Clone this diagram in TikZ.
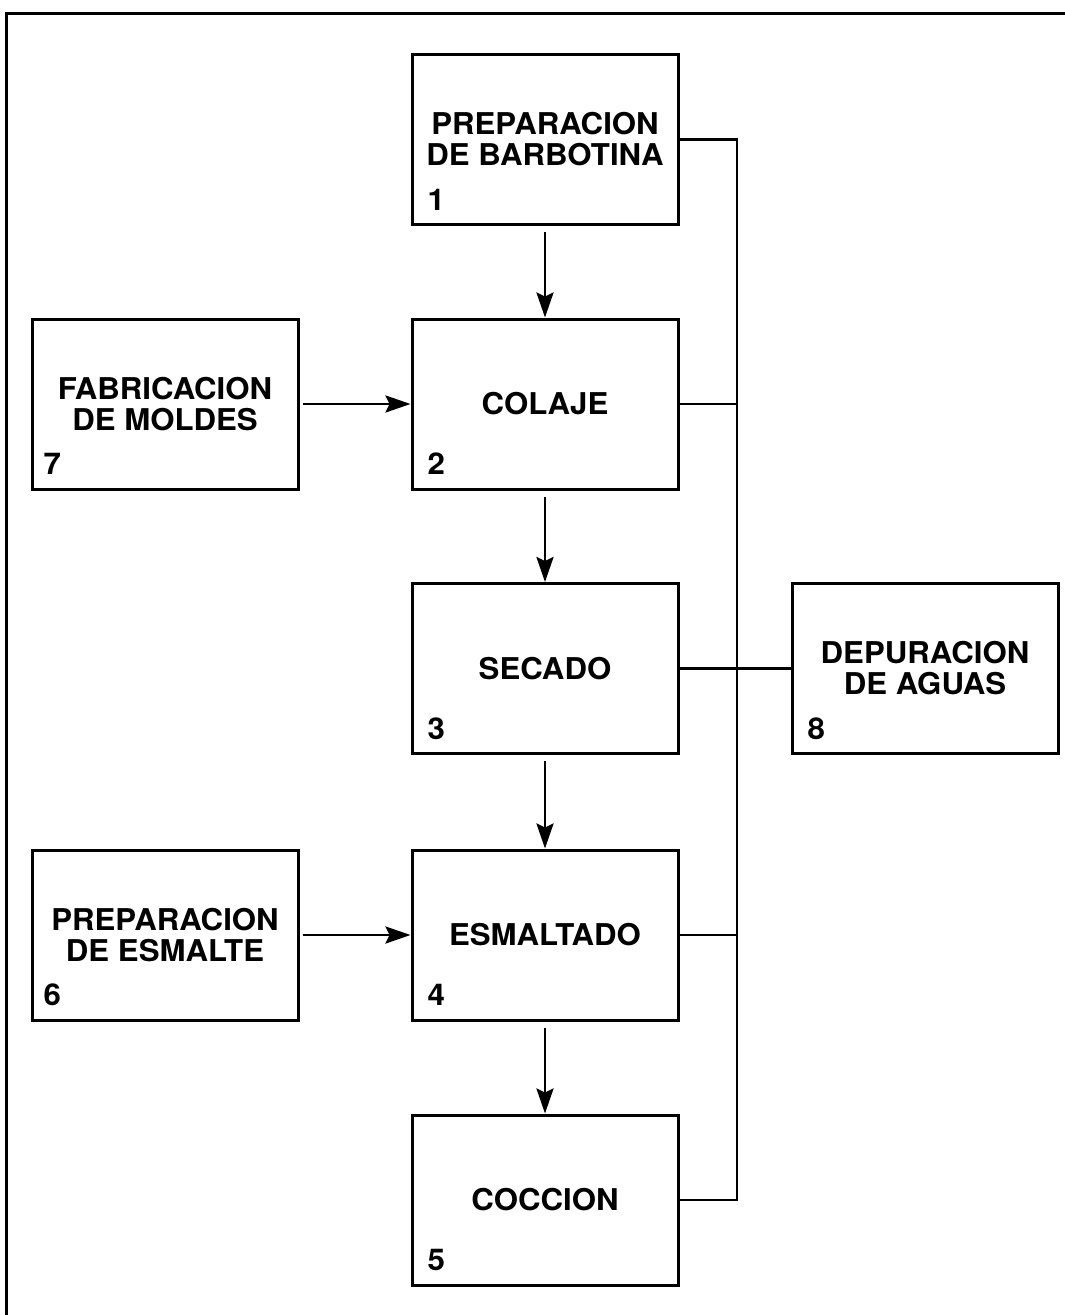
\documentclass[tikz,border=0pt]{standalone}
\usepackage{fontspec}
\setmainfont{TeX Gyre Heros}
\newfontfamily\lblfont[FakeStretch=1.04]{TeX Gyre Heros}
\usetikzlibrary{arrows.meta}
\begin{document}
\begin{tikzpicture}[x=1pt,y=-1pt,
  box/.style={draw,line width=3pt,minimum width=266pt,minimum height=170pt,
    align=center,inner sep=0pt,font=\lblfont\fontsize{30}{31}\selectfont\bfseries},
  num/.style={anchor=base west,inner sep=0pt,font=\lblfont\fontsize{30}{31}\selectfont\bfseries},
  conn/.style={line width=2.8pt},
  arr/.style={line width=2.8pt,-{Stealth[length=25pt,width=17pt,inset=4pt]}}]
\useasboundingbox (0,0) rectangle (1065,1315);
% frame (cut at right and bottom)
\draw[line width=3pt] (1065,13) -- (6,13) -- (6,1315);
% boxes
\node[box] (b1) at (545,139.5) {PREPARACION\\DE BARBOTINA};
\node[box] (b2) at (545,404) {COLAJE};
\node[box] (b3) at (545,668.5) {SECADO};
\node[box] (b4) at (545,935) {ESMALTADO};
\node[box] (b5) at (545,1200) {COCCION};
\node[box] (b7) at (165,404) {FABRICACION\\DE MOLDES};
\node[box] (b6) at (165,935) {PREPARACION\\DE ESMALTE};
\node[box] (b8) at (925,668.5) {DEPURACION\\DE AGUAS};
% numbers
\node[num] (n1) at ([xshift=17pt,yshift=16pt]b1.south west) {1};
\node[num] (n2) at ([xshift=17pt,yshift=16pt]b2.south west) {2};
\node[num] (n3) at ([xshift=17pt,yshift=16pt]b3.south west) {3};
\node[num] (n4) at ([xshift=17pt,yshift=16pt]b4.south west) {4};
\node[num] (n5) at ([xshift=17pt,yshift=16pt]b5.south west) {5};
\node[num] (n7) at ([xshift=13pt,yshift=16pt]b7.south west) {7};
\node[num] (n6) at ([xshift=13pt,yshift=16pt]b6.south west) {6};
\node[num] (n8) at ([xshift=17pt,yshift=16pt]b8.south west) {8};
% main flow arrows
\draw[arr] ([yshift=-6pt]b1.south) -- (b2.north);
\draw[arr] ([yshift=-6pt]b2.south) -- (b3.north);
\draw[arr] ([yshift=-6pt]b3.south) -- (b4.north);
\draw[arr] ([yshift=-6pt]b4.south) -- (b5.north);
\draw[arr] ([xshift=3pt]b7.east) -- (b2.west);
\draw[arr] ([xshift=3pt]b6.east) -- (b4.west);
% collector line to water treatment
\coordinate (bt) at (737,139.5);
\coordinate (bb) at (737,1200);
\draw[conn] (b1.east) -- (bt) -- (bb) -- (b5.east);
\draw[conn] (b2.east) -- (b2.east -| bt);
\draw[conn] (b4.east) -- (b4.east -| bt);
\draw[conn] (b3.east) -- (b8.west);
\end{tikzpicture}
\end{document}
